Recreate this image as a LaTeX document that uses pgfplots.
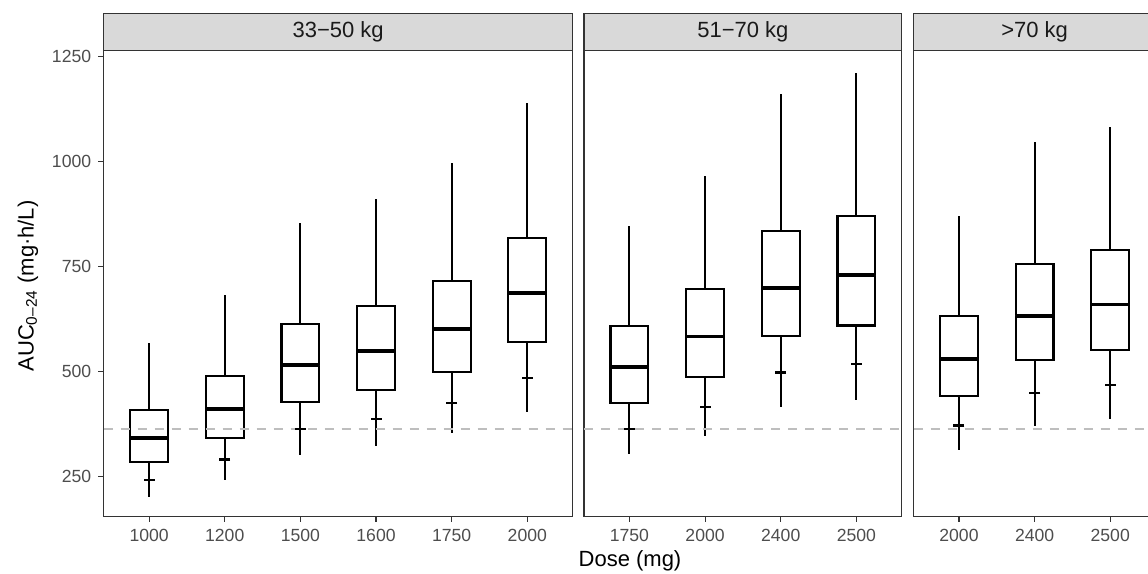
\documentclass[border=0pt]{standalone}
\usepackage{pgfplots}
\pgfplotsset{compat=1.18}
\usepgfplotslibrary{statistics}
\usepackage{fontspec}
\setmainfont{Liberation Sans}
\definecolor{grey10}{HTML}{1A1A1A}
\definecolor{grey20}{HTML}{333333}
\definecolor{grey30}{HTML}{4D4D4D}
\definecolor{grey85}{HTML}{D9D9D9}
\definecolor{dashgrey}{HTML}{BEBEBE}

\newcommand{\bx}[6]{\addplot[black, line width=1.07pt, fill=white,
  boxplot prepared={draw position=#1, lower whisker=#2, lower quartile=#3,
  median=#4, upper quartile=#5, upper whisker=#6}] coordinates {};}

\pgfplotsset{
  panel/.style={
    scale only axis, height=232.8pt, ymin=155.7, ymax=1264.3,
    anchor=south west,
    axis line style={grey20, line width=0.55pt},
    tick style={grey20, line width=0.55pt},
    tick align=outside, major tick length=2.75pt,
    xtick pos=bottom, ytick pos=left,
    ticklabel style={font=\fontsize{8.8}{10}\selectfont, text=grey30},
    /pgf/number format/assume math mode=true,
    /pgf/number format/1000 sep={},
    boxplot/draw direction=y, boxplot/box extend=0.5, boxplot/whisker extend=0,
    boxplot/every median/.style={line width=1.9pt},
  },
  crossmk/.style={only marks, mark=-, mark size=2.75pt, mark options={black, line width=1.07pt}},
  hline/.style={dashgrey, line width=1.07pt, dash pattern=on 4.5pt off 4pt},
}

\begin{document}
\begin{tikzpicture}
\useasboundingbox (0,0) rectangle (574pt,287pt);
\clip (0,0) rectangle (574pt,287pt);

% Panel 1: 33-50 kg
\begin{axis}[panel, name=p1, at={(51.85pt,28.85pt)}, width=234.5pt,
  xmin=0.4, xmax=6.6, xtick={1,2,3,4,5,6},
  xticklabels={1000,1200,1500,1600,1750,2000},
  ytick={250,500,750,1000,1250}]
\bx{1}{202}{286}{343}{409}{569}
\bx{2}{243}{342}{411}{490}{682}
\bx{3}{302}{427}{515}{614}{855}
\bx{4}{322}{457}{549}{656}{911}
\bx{5}{353}{499}{601}{716}{997}
\bx{6}{405}{571}{687}{818}{1139}
\addplot[crossmk] coordinates {(1,243) (2,291) (3,363.5) (4,388) (5,425) (6,486)};
\addplot[hline] coordinates {(0.4,363.5) (6.6,363.5)};
\end{axis}

% Panel 2: 51-70 kg
\begin{axis}[panel, name=p2, at={(292pt,28.85pt)}, width=158.9pt,
  xmin=0.4, xmax=4.6, xtick={1,2,3,4},
  xticklabels={1750,2000,2400,2500},
  ytick=\empty]
\bx{1}{303}{426}{511}{609}{846}
\bx{2}{346}{487}{584}{696}{966}
\bx{3}{416}{585}{700}{835}{1161}
\bx{4}{433}{610}{730}{871}{1211}
\addplot[crossmk] coordinates {(1,363.5) (2,416) (3,498) (4,518)};
\addplot[hline] coordinates {(0.4,363.5) (4.6,363.5)};
\end{axis}

% Panel 3: >70 kg
\begin{axis}[panel, name=p3, at={(456.8pt,28.85pt)}, width=121.0pt,
  xmin=0.4, xmax=3.6, xtick={1,2,3},
  xticklabels={2000,2400,2500},
  ytick=\empty]
\bx{1}{313}{442}{530}{632}{871}
\bx{2}{370}{528}{633}{756}{1047}
\bx{3}{387}{551}{660}{789}{1083}
\addplot[crossmk] coordinates {(1,372) (2,449) (3,468)};
\addplot[hline] coordinates {(0.4,363.5) (3.6,363.5)};
\end{axis}

% strips
\foreach \p/\lab in {p1/{33−50 kg}, p2/{51−70 kg}, p3/{>70 kg}} {
  \draw[grey20, line width=0.55pt, fill=grey85] (\p.north west) rectangle ([yshift=18.7pt]\p.north east);
  \node[font=\fontsize{11}{13}\selectfont, text=grey10] at ([yshift=9.35pt]\p.north) {\lab};
}

% axis titles
\node[font=\fontsize{11}{13}\selectfont, text=black] at (315pt,6.8pt) {Dose (mg)};
\node[font=\fontsize{11}{13}\selectfont, text=black, rotate=90] at (14pt,144pt)
  {AUC\textsubscript{0–24} (mg·h/L)};
\end{tikzpicture}
\end{document}
